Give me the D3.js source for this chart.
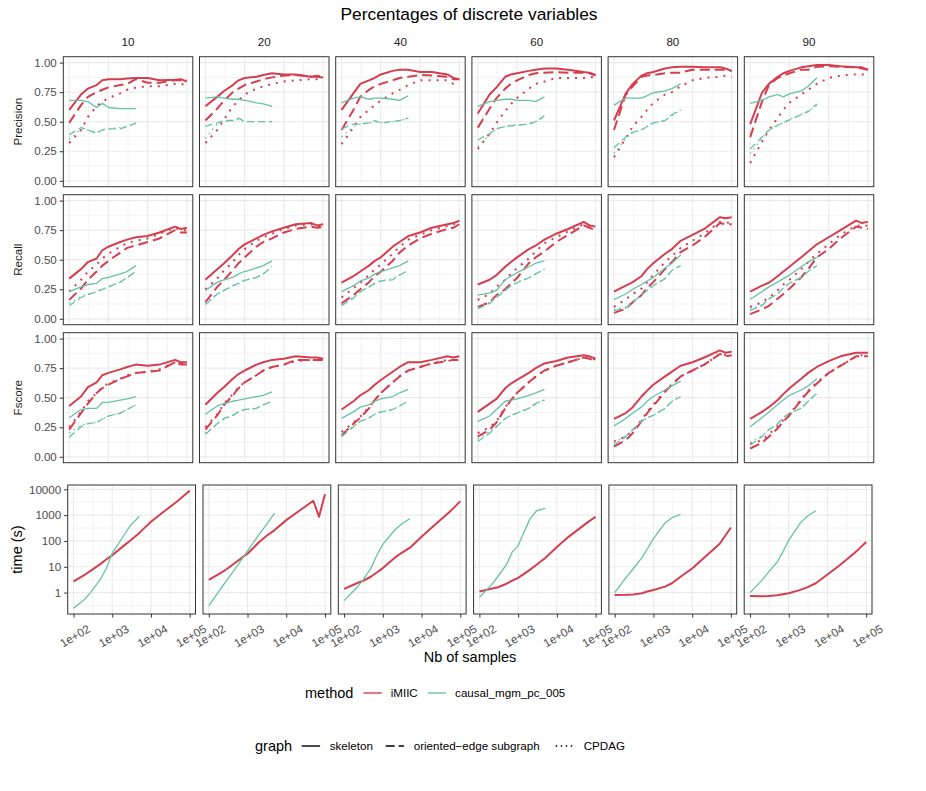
<!DOCTYPE html>
<html>
<head>
<meta charset="utf-8">
<script src="https://cdn.jsdelivr.net/npm/d3@7"></script>
<style>
body { margin: 0; background: #fff; }
svg text { font-family: "Liberation Sans", Arial, Helvetica, sans-serif; }
</style>
</head>
<body>
<div id="chart"></div>
<script>
// sample sizes (x axis); causal_mgm_pc_005 only goes up to 5000
var samples = [100, 200, 300, 500, 700, 1000, 2000, 3000, 5000, 10000, 20000, 50000, 70000, 100000];
var percentages = ["10", "20", "40", "60", "80", "90"];
var metricNames = ["Precision", "Recall", "Fscore"];
var methodNames = ["iMIIC", "causal_mgm_pc_005"];
var graphNames = ["skeleton", "oriented\u2212edge subgraph", "CPDAG"];
var xTickLabels = ["1e+02", "1e+03", "1e+04", "1e+05"];
var yTickLabels = ["0.00", "0.25", "0.50", "0.75", "1.00"];
var timeTickLabels = ["1", "10", "100", "1000", "10000"];

// Precision, one row per percentage panel
var precMiicSkel = [
  [0.60, 0.73, 0.78, 0.81, 0.85, 0.86, 0.86, 0.865, 0.87, 0.87, 0.85, 0.855, 0.86, 0.84],
  [0.63, 0.71, 0.76, 0.81, 0.85, 0.87, 0.88, 0.895, 0.91, 0.90, 0.90, 0.88, 0.88, 0.875],
  [0.60, 0.74, 0.82, 0.85, 0.87, 0.90, 0.93, 0.94, 0.94, 0.92, 0.92, 0.90, 0.87, 0.86],
  [0.57, 0.73, 0.79, 0.88, 0.90, 0.91, 0.93, 0.94, 0.95, 0.95, 0.94, 0.92, 0.915, 0.895],
  [0.51, 0.74, 0.82, 0.89, 0.91, 0.92, 0.95, 0.96, 0.965, 0.965, 0.96, 0.96, 0.95, 0.93],
  [0.48, 0.745, 0.82, 0.88, 0.91, 0.93, 0.96, 0.97, 0.98, 0.98, 0.97, 0.96, 0.96, 0.94]
];
var precMiicOri = [
  [0.49, 0.64, 0.71, 0.75, 0.77, 0.79, 0.81, 0.82, 0.86, 0.83, 0.83, 0.85, 0.85, 0.85],
  [0.51, 0.61, 0.68, 0.75, 0.78, 0.81, 0.84, 0.86, 0.875, 0.89, 0.895, 0.88, 0.89, 0.88],
  [0.43, 0.60, 0.71, 0.77, 0.80, 0.82, 0.85, 0.87, 0.88, 0.895, 0.89, 0.88, 0.86, 0.86],
  [0.45, 0.61, 0.70, 0.78, 0.82, 0.85, 0.895, 0.91, 0.915, 0.92, 0.915, 0.915, 0.91, 0.89],
  [0.43, 0.73, 0.80, 0.88, 0.89, 0.895, 0.91, 0.915, 0.915, 0.94, 0.94, 0.94, 0.94, 0.93],
  [0.37, 0.67, 0.81, 0.87, 0.89, 0.91, 0.94, 0.94, 0.965, 0.97, 0.965, 0.96, 0.95, 0.94]
];
var precMiicCpdag = [
  [0.32, 0.43, 0.54, 0.63, 0.67, 0.70, 0.74, 0.77, 0.79, 0.80, 0.80, 0.82, 0.82, 0.81],
  [0.32, 0.43, 0.52, 0.63, 0.68, 0.73, 0.78, 0.80, 0.82, 0.84, 0.85, 0.86, 0.86, 0.87],
  [0.31, 0.45, 0.54, 0.60, 0.64, 0.68, 0.74, 0.77, 0.81, 0.85, 0.85, 0.85, 0.82, 0.83],
  [0.27, 0.40, 0.49, 0.59, 0.65, 0.70, 0.78, 0.82, 0.84, 0.87, 0.87, 0.87, 0.88, 0.875],
  [0.20, 0.36, 0.46, 0.54, 0.60, 0.66, 0.73, 0.75, 0.80, 0.85, 0.87, 0.88, 0.89, 0.88],
  [0.15, 0.33, 0.43, 0.53, 0.60, 0.66, 0.73, 0.77, 0.82, 0.87, 0.89, 0.90, 0.90, 0.90]
];
var precMgmSkel = [
  [0.68, 0.68, 0.67, 0.62, 0.655, 0.62, 0.61, 0.61, 0.61],
  [0.70, 0.71, 0.70, 0.69, 0.69, 0.68, 0.66, 0.65, 0.63],
  [0.66, 0.70, 0.71, 0.69, 0.70, 0.70, 0.69, 0.68, 0.72],
  [0.63, 0.67, 0.68, 0.69, 0.69, 0.68, 0.68, 0.67, 0.71],
  [0.64, 0.70, 0.70, 0.70, 0.72, 0.745, 0.76, 0.78, 0.82],
  [0.655, 0.68, 0.71, 0.73, 0.71, 0.735, 0.76, 0.80, 0.87]
];
var precMgmOri = [
  [0.39, 0.45, 0.43, 0.40, 0.43, 0.44, 0.44, 0.46, 0.49],
  [0.46, 0.49, 0.51, 0.51, 0.53, 0.50, 0.50, 0.50, 0.50],
  [0.44, 0.48, 0.48, 0.49, 0.51, 0.49, 0.50, 0.51, 0.53],
  [0.345, 0.40, 0.44, 0.46, 0.465, 0.47, 0.48, 0.50, 0.55],
  [0.28, 0.37, 0.41, 0.43, 0.46, 0.49, 0.51, 0.56, 0.60],
  [0.27, 0.37, 0.43, 0.47, 0.49, 0.515, 0.56, 0.585, 0.65]
];
var precMgmCpdag = [
  [0.35, 0.44, 0.43, 0.41, 0.43, 0.44, 0.45, 0.46, 0.48],
  [0.36, 0.48, 0.50, 0.51, 0.52, 0.50, 0.50, 0.50, 0.50],
  [0.37, 0.46, 0.48, 0.49, 0.50, 0.49, 0.50, 0.51, 0.53],
  [0.29, 0.39, 0.44, 0.46, 0.47, 0.47, 0.48, 0.50, 0.54],
  [0.23, 0.36, 0.41, 0.43, 0.46, 0.49, 0.51, 0.55, 0.60],
  [0.23, 0.36, 0.43, 0.47, 0.49, 0.52, 0.56, 0.59, 0.64]
];

// Recall
var recMiicSkel = [
  [0.34, 0.42, 0.48, 0.51, 0.58, 0.61, 0.65, 0.67, 0.69, 0.70, 0.73, 0.78, 0.76, 0.77],
  [0.33, 0.42, 0.47, 0.54, 0.59, 0.63, 0.68, 0.71, 0.74, 0.77, 0.80, 0.81, 0.79, 0.80],
  [0.305, 0.36, 0.40, 0.45, 0.49, 0.52, 0.61, 0.65, 0.70, 0.73, 0.77, 0.80, 0.81, 0.83],
  [0.29, 0.33, 0.37, 0.44, 0.48, 0.52, 0.59, 0.62, 0.67, 0.72, 0.76, 0.82, 0.79, 0.78],
  [0.23, 0.28, 0.31, 0.36, 0.42, 0.47, 0.55, 0.59, 0.66, 0.71, 0.76, 0.86, 0.85, 0.86],
  [0.23, 0.28, 0.305, 0.36, 0.40, 0.44, 0.52, 0.57, 0.63, 0.69, 0.75, 0.83, 0.81, 0.82]
];
var recMiicOri = [
  [0.16, 0.255, 0.33, 0.40, 0.45, 0.49, 0.56, 0.60, 0.62, 0.65, 0.68, 0.75, 0.73, 0.73],
  [0.14, 0.27, 0.33, 0.41, 0.47, 0.52, 0.61, 0.65, 0.68, 0.73, 0.76, 0.78, 0.77, 0.775],
  [0.13, 0.20, 0.25, 0.31, 0.36, 0.40, 0.49, 0.56, 0.62, 0.68, 0.72, 0.76, 0.77, 0.80],
  [0.10, 0.14, 0.20, 0.25, 0.30, 0.345, 0.47, 0.52, 0.57, 0.65, 0.71, 0.79, 0.77, 0.75],
  [0.05, 0.085, 0.14, 0.20, 0.26, 0.31, 0.42, 0.48, 0.565, 0.62, 0.69, 0.81, 0.80, 0.80],
  [0.04, 0.08, 0.11, 0.17, 0.21, 0.255, 0.35, 0.42, 0.52, 0.59, 0.68, 0.78, 0.77, 0.76]
];
var recMiicCpdag = [
  [0.23, 0.33, 0.40, 0.46, 0.51, 0.55, 0.61, 0.64, 0.66, 0.68, 0.72, 0.77, 0.75, 0.75],
  [0.25, 0.34, 0.41, 0.48, 0.54, 0.59, 0.66, 0.69, 0.72, 0.76, 0.79, 0.80, 0.78, 0.79],
  [0.18, 0.26, 0.305, 0.37, 0.42, 0.46, 0.55, 0.61, 0.67, 0.71, 0.75, 0.785, 0.80, 0.81],
  [0.16, 0.21, 0.27, 0.33, 0.38, 0.43, 0.51, 0.57, 0.64, 0.69, 0.74, 0.80, 0.79, 0.78],
  [0.10, 0.165, 0.21, 0.255, 0.31, 0.37, 0.48, 0.53, 0.60, 0.66, 0.72, 0.82, 0.81, 0.82],
  [0.10, 0.14, 0.18, 0.24, 0.29, 0.33, 0.42, 0.48, 0.55, 0.63, 0.71, 0.79, 0.785, 0.79]
];
var recMgmSkel = [
  [0.23, 0.27, 0.29, 0.30, 0.34, 0.35, 0.38, 0.40, 0.45],
  [0.24, 0.31, 0.33, 0.35, 0.38, 0.40, 0.43, 0.45, 0.49],
  [0.23, 0.28, 0.32, 0.345, 0.38, 0.40, 0.43, 0.45, 0.49],
  [0.20, 0.22, 0.24, 0.33, 0.36, 0.39, 0.44, 0.47, 0.49],
  [0.165, 0.21, 0.25, 0.29, 0.32, 0.35, 0.43, 0.47, 0.54],
  [0.165, 0.23, 0.27, 0.31, 0.34, 0.37, 0.44, 0.48, 0.52]
];
var recMgmOri = [
  [0.11, 0.18, 0.205, 0.23, 0.25, 0.27, 0.31, 0.35, 0.40],
  [0.12, 0.21, 0.24, 0.28, 0.30, 0.325, 0.35, 0.38, 0.44],
  [0.11, 0.175, 0.23, 0.27, 0.30, 0.32, 0.33, 0.37, 0.41],
  [0.085, 0.13, 0.18, 0.24, 0.28, 0.305, 0.345, 0.38, 0.42],
  [0.07, 0.09, 0.14, 0.20, 0.24, 0.28, 0.34, 0.41, 0.45],
  [0.07, 0.11, 0.17, 0.21, 0.26, 0.30, 0.35, 0.40, 0.45]
];
var recMgmCpdag = [
  [0.13, 0.19, 0.21, 0.23, 0.25, 0.27, 0.31, 0.35, 0.40],
  [0.13, 0.21, 0.24, 0.28, 0.30, 0.33, 0.35, 0.38, 0.44],
  [0.12, 0.18, 0.23, 0.27, 0.30, 0.32, 0.34, 0.37, 0.41],
  [0.10, 0.14, 0.19, 0.24, 0.28, 0.31, 0.35, 0.38, 0.42],
  [0.08, 0.10, 0.15, 0.20, 0.24, 0.28, 0.34, 0.41, 0.45],
  [0.08, 0.12, 0.17, 0.21, 0.26, 0.30, 0.35, 0.40, 0.45]
];

// Fscore
var fscMiicSkel = [
  [0.43, 0.51, 0.59, 0.63, 0.69, 0.71, 0.74, 0.76, 0.78, 0.77, 0.78, 0.82, 0.80, 0.80],
  [0.44, 0.54, 0.59, 0.66, 0.70, 0.73, 0.78, 0.80, 0.82, 0.83, 0.85, 0.84, 0.84, 0.83],
  [0.40, 0.47, 0.52, 0.565, 0.61, 0.65, 0.72, 0.76, 0.80, 0.80, 0.82, 0.85, 0.84, 0.85],
  [0.38, 0.45, 0.49, 0.58, 0.62, 0.65, 0.71, 0.75, 0.79, 0.81, 0.84, 0.86, 0.85, 0.83],
  [0.32, 0.37, 0.42, 0.51, 0.56, 0.61, 0.68, 0.72, 0.77, 0.80, 0.84, 0.90, 0.88, 0.89],
  [0.32, 0.38, 0.42, 0.48, 0.53, 0.58, 0.66, 0.71, 0.76, 0.81, 0.85, 0.88, 0.88, 0.88]
];
var fscMiicOri = [
  [0.23, 0.37, 0.45, 0.54, 0.58, 0.61, 0.66, 0.68, 0.71, 0.72, 0.73, 0.80, 0.78, 0.78],
  [0.23, 0.35, 0.44, 0.52, 0.58, 0.63, 0.69, 0.73, 0.76, 0.78, 0.82, 0.82, 0.82, 0.82],
  [0.18, 0.28, 0.33, 0.41, 0.48, 0.54, 0.63, 0.68, 0.73, 0.76, 0.79, 0.81, 0.82, 0.82],
  [0.17, 0.23, 0.29, 0.41, 0.48, 0.54, 0.63, 0.68, 0.73, 0.77, 0.80, 0.84, 0.83, 0.81],
  [0.085, 0.14, 0.20, 0.30, 0.37, 0.43, 0.55, 0.61, 0.68, 0.73, 0.78, 0.87, 0.85, 0.86],
  [0.07, 0.12, 0.17, 0.24, 0.30, 0.35, 0.48, 0.55, 0.62, 0.71, 0.77, 0.85, 0.85, 0.85]
];
var fscMiicCpdag = [
  [0.25, 0.38, 0.47, 0.54, 0.59, 0.62, 0.66, 0.69, 0.71, 0.72, 0.74, 0.80, 0.79, 0.80],
  [0.25, 0.36, 0.45, 0.53, 0.59, 0.63, 0.69, 0.73, 0.76, 0.78, 0.81, 0.82, 0.82, 0.83],
  [0.21, 0.29, 0.34, 0.42, 0.48, 0.54, 0.63, 0.68, 0.73, 0.76, 0.79, 0.82, 0.82, 0.83],
  [0.20, 0.25, 0.30, 0.42, 0.48, 0.54, 0.63, 0.68, 0.73, 0.77, 0.80, 0.84, 0.84, 0.82],
  [0.13, 0.17, 0.22, 0.31, 0.38, 0.44, 0.56, 0.61, 0.68, 0.73, 0.78, 0.87, 0.86, 0.87],
  [0.11, 0.14, 0.19, 0.26, 0.31, 0.36, 0.49, 0.56, 0.63, 0.71, 0.77, 0.85, 0.86, 0.86]
];
var fscMgmSkel = [
  [0.33, 0.40, 0.41, 0.41, 0.46, 0.46, 0.48, 0.49, 0.51],
  [0.36, 0.43, 0.45, 0.47, 0.48, 0.49, 0.51, 0.52, 0.55],
  [0.325, 0.38, 0.42, 0.44, 0.47, 0.49, 0.51, 0.54, 0.57],
  [0.30, 0.345, 0.40, 0.47, 0.48, 0.49, 0.52, 0.54, 0.57],
  [0.26, 0.325, 0.37, 0.42, 0.47, 0.51, 0.565, 0.60, 0.64],
  [0.255, 0.33, 0.38, 0.44, 0.48, 0.52, 0.565, 0.60, 0.66]
];
var fscMgmOri = [
  [0.165, 0.255, 0.28, 0.29, 0.32, 0.345, 0.37, 0.40, 0.44],
  [0.19, 0.28, 0.325, 0.35, 0.38, 0.40, 0.41, 0.44, 0.47],
  [0.17, 0.255, 0.30, 0.33, 0.36, 0.38, 0.40, 0.43, 0.47],
  [0.13, 0.20, 0.255, 0.325, 0.35, 0.37, 0.41, 0.45, 0.48],
  [0.10, 0.17, 0.23, 0.30, 0.33, 0.35, 0.41, 0.47, 0.51],
  [0.10, 0.17, 0.23, 0.28, 0.33, 0.37, 0.41, 0.47, 0.54]
];
var fscMgmCpdag = [
  [0.20, 0.27, 0.28, 0.29, 0.32, 0.345, 0.37, 0.40, 0.44],
  [0.20, 0.28, 0.32, 0.35, 0.38, 0.40, 0.41, 0.44, 0.47],
  [0.19, 0.26, 0.30, 0.33, 0.36, 0.38, 0.40, 0.43, 0.47],
  [0.15, 0.21, 0.26, 0.32, 0.35, 0.37, 0.41, 0.45, 0.48],
  [0.12, 0.18, 0.23, 0.30, 0.33, 0.35, 0.41, 0.47, 0.51],
  [0.12, 0.18, 0.23, 0.28, 0.33, 0.37, 0.41, 0.47, 0.53]
];

// run time in seconds
var timeMiic = [
  [2.7, 5.0, 7.6, 13, 19, 28, 66, 106, 205, 550, 1260, 3600, 5650, 8700],
  [3.1, 5.7, 8.4, 15, 22, 32, 91, 152, 263, 640, 1350, 3600, 870, 6400],
  [1.4, 2.2, 2.8, 4.2, 6.0, 8.9, 22, 34, 55, 144, 370, 1230, 2000, 3500],
  [1.1, 1.4, 1.6, 2.2, 2.9, 3.7, 7.6, 12, 22, 58, 144, 410, 600, 860],
  [0.81, 0.82, 0.84, 0.94, 1.1, 1.27, 1.7, 2.3, 4.1, 8.6, 22, 74, 152, 330],
  [0.74, 0.72, 0.74, 0.79, 0.86, 0.94, 1.27, 1.6, 2.3, 5.0, 11, 34, 55, 91]
];
var timeMgm = [
  [0.25, 0.57, 1.2, 3.4, 8.4, 34, 166, 410, 910],
  [0.31, 1.35, 3.2, 9.1, 19, 41, 178, 410, 1200],
  [0.49, 1.4, 2.9, 9.1, 28, 74, 260, 445, 740],
  [0.66, 1.9, 4.2, 12, 37, 66, 700, 1480, 1820],
  [1.0, 4.0, 8.4, 22, 50, 123, 500, 790, 1070],
  [1.0, 2.9, 6.2, 15, 37, 107, 500, 910, 1480]
];

var metricSeries = [
  {metric: 0, method: 0, graph: 0, values: precMiicSkel},
  {metric: 0, method: 0, graph: 1, values: precMiicOri},
  {metric: 0, method: 0, graph: 2, values: precMiicCpdag},
  {metric: 0, method: 1, graph: 0, values: precMgmSkel},
  {metric: 0, method: 1, graph: 1, values: precMgmOri},
  {metric: 0, method: 1, graph: 2, values: precMgmCpdag},
  {metric: 1, method: 0, graph: 0, values: recMiicSkel},
  {metric: 1, method: 0, graph: 1, values: recMiicOri},
  {metric: 1, method: 0, graph: 2, values: recMiicCpdag},
  {metric: 1, method: 1, graph: 0, values: recMgmSkel},
  {metric: 1, method: 1, graph: 1, values: recMgmOri},
  {metric: 1, method: 1, graph: 2, values: recMgmCpdag},
  {metric: 2, method: 0, graph: 0, values: fscMiicSkel},
  {metric: 2, method: 0, graph: 1, values: fscMiicOri},
  {metric: 2, method: 0, graph: 2, values: fscMiicCpdag},
  {metric: 2, method: 1, graph: 0, values: fscMgmSkel},
  {metric: 2, method: 1, graph: 1, values: fscMgmOri},
  {metric: 2, method: 1, graph: 2, values: fscMgmCpdag}
];
var timeSeries = [
  {method: 0, values: timeMiic},
  {method: 1, values: timeMgm}
];

var color = d3.scaleOrdinal().domain(methodNames).range(["#D53E4F", "#66C2A5"]);
var lineW = [2, 1.3];
var dashes = [["none", "10,5", "2,6"], ["none", "7,4", "1.5,4"]];
var keyDashes = ["none", "9,4", "1.5,3.5"];

var svg = d3.select("#chart").append("svg")
    .attr("width", 926)
    .attr("height", 791);
svg.append("rect").attr("width", 926).attr("height", 791).attr("fill", "#fff");

var top3 = { left: 63.3, width: 129.5, step: 136.2, tops: [56.7, 194.7, 332.7], height: 130 };
var bottom = { left: 67.7, width: 127.8, step: 135.3, top: 485, height: 129 };

// x: log10, ggplot style 5% expansion in log space
var lx = [Math.log10(d3.min(samples)), Math.log10(d3.max(samples))];
var padX = (lx[1] - lx[0]) * 0.05;
var xDomain = [Math.pow(10, lx[0] - padX), Math.pow(10, lx[1] + padX)];
var xMajor = [100, 1000, 10000, 100000];
var xMinor = [Math.pow(10, 2.5), Math.pow(10, 3.5), Math.pow(10, 4.5)];

var yMajor = [0, 0.25, 0.5, 0.75, 1];
var yMinor = [0.125, 0.375, 0.625, 0.875];

var allTimes = [];
timeSeries.forEach(function(s) { s.values.forEach(function(p) { allTimes = allTimes.concat(p); }); });
var ly = [Math.log10(d3.min(allTimes)), Math.log10(d3.max(allTimes))];
var padY = (ly[1] - ly[0]) * 0.05;
var tDomain = [Math.pow(10, ly[0] - padY), Math.pow(10, ly[1] + padY)];
var tMajor = [1, 10, 100, 1000, 10000];
var tMinor = [-0.5, 0.5, 1.5, 2.5, 3.5].map(function(e) { return Math.pow(10, e); });

var line = function(x, y) {
    return d3.line()
        .x(function(d) { return x(d[0]); })
        .y(function(d) { return y(d[1]); });
};

function drawGrid(g, x, y, w, h, ym, yn) {
    xMinor.forEach(function(v) {
        g.append("line").attr("x1", x(v)).attr("x2", x(v)).attr("y1", 0).attr("y2", h)
            .attr("stroke", "#ebebeb").attr("stroke-width", 0.6);
    });
    yn.forEach(function(v) {
        g.append("line").attr("x1", 0).attr("x2", w).attr("y1", y(v)).attr("y2", y(v))
            .attr("stroke", "#ebebeb").attr("stroke-width", 0.6);
    });
    xMajor.forEach(function(v) {
        g.append("line").attr("x1", x(v)).attr("x2", x(v)).attr("y1", 0).attr("y2", h)
            .attr("stroke", "#ebebeb").attr("stroke-width", 1.2);
    });
    ym.forEach(function(v) {
        g.append("line").attr("x1", 0).attr("x2", w).attr("y1", y(v)).attr("y2", y(v))
            .attr("stroke", "#ebebeb").attr("stroke-width", 1.2);
    });
}

function drawBorder(g, w, h) {
    g.append("rect").attr("width", w).attr("height", h)
        .attr("fill", "none").attr("stroke", "#333").attr("stroke-width", 1);
}

// title
svg.append("text")
    .attr("x", 469).attr("y", 19.5)
    .attr("text-anchor", "middle")
    .attr("font-size", 17.4)
    .attr("fill", "#000")
    .text("Percentages of discrete variables");

// facet strip labels
percentages.forEach(function(p, i) {
    svg.append("text")
        .attr("x", top3.left + i * top3.step + top3.width / 2)
        .attr("y", 46)
        .attr("text-anchor", "middle")
        .attr("font-size", 11.6)
        .attr("fill", "#1a1a1a")
        .text(p);
});

// metric rows
metricNames.forEach(function(m, r) {
    var y = d3.scaleLinear().domain([-0.05, 1.05]).range([top3.height, 0]);
    var cy = top3.tops[r] + top3.height / 2;
    svg.append("text")
        .attr("transform", "translate(22," + cy + ") rotate(-90)")
        .attr("text-anchor", "middle")
        .attr("font-size", 11.6)
        .attr("fill", "#1a1a1a")
        .text(m);

    percentages.forEach(function(p, c) {
        var g = svg.append("g")
            .attr("transform", "translate(" + (top3.left + c * top3.step) + "," + top3.tops[r] + ")");
        var x = d3.scaleLog().domain(xDomain).range([0, top3.width]);
        drawGrid(g, x, y, top3.width, top3.height, yMajor, yMinor);

        metricSeries.filter(function(s) { return s.metric == r; }).forEach(function(s) {
            var pts = s.values[c].map(function(v, i) { return [samples[i], v]; });
            g.append("path")
                .attr("d", line(x, y)(pts))
                .attr("fill", "none")
                .attr("stroke", color(methodNames[s.method]))
                .attr("stroke-width", lineW[s.method])
                .attr("stroke-dasharray", dashes[s.method][s.graph])
                .attr("stroke-linejoin", "round");
        });
        drawBorder(g, top3.width, top3.height);

        if (c == 0) {
            var ax = g.append("g").call(d3.axisLeft(y).tickValues(yMajor)
                .tickFormat(function(d, i) { return yTickLabels[i]; })
                .tickSize(3.6).tickPadding(2.9));
            ax.select(".domain").remove();
            ax.selectAll("line").attr("stroke", "#333");
            ax.selectAll("text").attr("font-size", 11.6).attr("fill", "#4d4d4d")
                .attr("font-family", null);
        }
    });
});

// time row
var ty = d3.scaleLog().domain(tDomain).range([bottom.height, 0]);
svg.append("text")
    .attr("transform", "translate(22," + (bottom.top + bottom.height / 2) + ") rotate(-90)")
    .attr("text-anchor", "middle")
    .attr("font-size", 14.5)
    .attr("fill", "#000")
    .text("time (s)");

percentages.forEach(function(p, c) {
    var g = svg.append("g")
        .attr("transform", "translate(" + (bottom.left + c * bottom.step) + "," + bottom.top + ")");
    var x = d3.scaleLog().domain(xDomain).range([0, bottom.width]);
    drawGrid(g, x, ty, bottom.width, bottom.height, tMajor, tMinor);

    timeSeries.forEach(function(s) {
        var pts = s.values[c].map(function(v, i) { return [samples[i], v]; });
        g.append("path")
            .attr("d", line(x, ty)(pts))
            .attr("fill", "none")
            .attr("stroke", color(methodNames[s.method]))
            .attr("stroke-width", lineW[s.method])
            .attr("stroke-linejoin", "round");
    });
    drawBorder(g, bottom.width, bottom.height);

    var xa = g.append("g").attr("transform", "translate(0," + bottom.height + ")")
        .call(d3.axisBottom(x).tickValues(xMajor).tickFormat("").tickSize(3.6));
    xa.select(".domain").remove();
    xa.selectAll("line").attr("stroke", "#333");
    xMajor.forEach(function(v, i) {
        g.append("text")
            .attr("transform", "translate(" + (x(v) + 1.5) + "," + (bottom.height + 22) + ") rotate(-30)")
            .attr("text-anchor", "middle")
            .attr("dy", "0.35em")
            .attr("font-size", 11.6)
            .attr("fill", "#4d4d4d")
            .text(xTickLabels[i]);
    });

    if (c == 0) {
        var ya = g.append("g").call(d3.axisLeft(ty).tickValues(tMajor)
            .tickFormat(function(d, i) { return timeTickLabels[i]; })
            .tickSize(3.6).tickPadding(2.9));
        ya.select(".domain").remove();
        ya.selectAll("line").attr("stroke", "#333");
        ya.selectAll("text").attr("font-size", 11.6).attr("fill", "#4d4d4d")
            .attr("font-family", null);
    }
});

svg.append("text")
    .attr("x", 470).attr("y", 662)
    .attr("text-anchor", "middle")
    .attr("font-size", 14.5)
    .attr("fill", "#000")
    .text("Nb of samples");

// legends
var leg1 = svg.append("g").attr("transform", "translate(0,693)");
leg1.append("text").attr("x", 305).attr("dy", "0.35em").attr("font-size", 14.5).text("method");
var methodKeyX = [363.3, 427.7];
methodNames.forEach(function(m, i) {
    leg1.append("line").attr("x1", methodKeyX[i]).attr("x2", methodKeyX[i] + 18.4)
        .attr("stroke", color(m)).attr("stroke-width", 1.4);
    leg1.append("text").attr("x", methodKeyX[i] + 27.4).attr("dy", "0.35em")
        .attr("font-size", 11.6).text(m);
});

var leg2 = svg.append("g").attr("transform", "translate(0,746)");
leg2.append("text").attr("x", 255).attr("dy", "0.35em").attr("font-size", 14.5).text("graph");
var graphKeyX = [301.7, 385.7, 555.7];
graphNames.forEach(function(gn, i) {
    leg2.append("line").attr("x1", graphKeyX[i]).attr("x2", graphKeyX[i] + 18.4)
        .attr("stroke", "#000").attr("stroke-width", 1.4)
        .attr("stroke-dasharray", keyDashes[i]);
    leg2.append("text").attr("x", graphKeyX[i] + 28).attr("dy", "0.35em")
        .attr("font-size", 11.6).text(gn);
});
</script>
</body>
</html>
